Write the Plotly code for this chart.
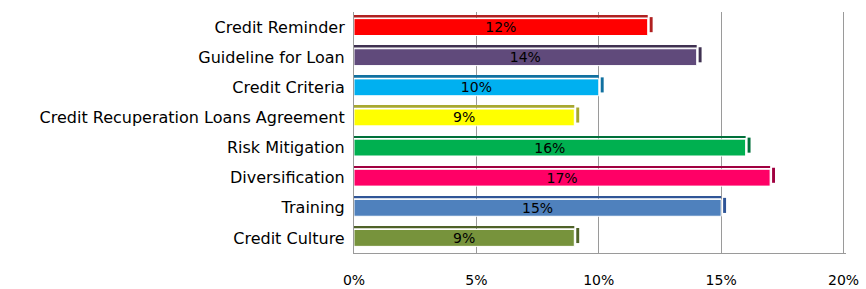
import plotly.graph_objects as go

categories = ["Credit Reminder", "Guideline for Loan", "Credit Criteria",
              "Credit Recuperation Loans Agreement", "Risk Mitigation",
              "Diversification", "Training", "Credit Culture"]
values = [12, 14, 10, 9, 16, 17, 15, 9]
labels = ["12%", "14%", "10%", "9%", "16%", "17%", "15%", "9%"]
colors = ["#FF0000", "#604A7B", "#00B0F0", "#FFFF00",
          "#00B050", "#FF0066", "#4F81BD", "#77933C"]
dark_colors = ["#B02020", "#3F3151", "#1070A0", "#A8A830",
               "#00703A", "#A00040", "#2F5597", "#4F6228"]
tick_vals = [0, 5, 10, 15, 20]
tick_text = ["0%", "5%", "10%", "15%", "20%"]

FONT = "DejaVu Sans, Liberation Sans, Arial"

fig = go.Figure()
# top face strip (3D look)
fig.add_trace(go.Bar(
    y=categories, x=values, orientation="h",
    marker=dict(color=dark_colors, line=dict(width=0)),
    width=0.06, offset=-0.38, hoverinfo="skip",
))
# right face (3D look)
fig.add_trace(go.Bar(
    y=categories, x=[0.12] * len(values), base=[v + 0.08 for v in values],
    orientation="h",
    marker=dict(color=dark_colors, line=dict(width=0)),
    width=0.5, offset=-0.33, hoverinfo="skip",
))
# main bars
fig.add_trace(go.Bar(
    y=categories, x=values, orientation="h",
    marker=dict(color=colors, line=dict(color="white", width=1)),
    text=labels, textposition="inside", insidetextanchor="middle",
    constraintext="none",
    textfont=dict(family=FONT, size=14, color="black"),
    width=0.56, offset=-0.28,
))

fig.update_layout(
    width=866, height=289,
    margin=dict(l=354, r=20, t=12, b=36),
    paper_bgcolor="white", plot_bgcolor="white",
    showlegend=False, barmode="overlay",
    font=dict(family=FONT, size=14, color="black"),
    xaxis=dict(range=[0, 20.1], tickvals=tick_vals, ticktext=tick_text,
               showgrid=True, gridcolor="#9A9A9A", gridwidth=1,
               showline=True, linecolor="#9A9A9A", linewidth=1,
               zeroline=False, ticks="", ticklen=0, ticklabelstandoff=14,
               ticklabeloverflow="allow", automargin=False,
               tickfont=dict(size=14)),
    yaxis=dict(autorange="reversed", showline=True, linecolor="#9A9A9A",
               linewidth=1, ticks="", ticksuffix=" ", automargin=False,
               tickfont=dict(size=16)),
)

fig.write_html(
    "out.html",
    config={"displayModeBar": False},
    post_script="document.body.style.margin='0';document.body.style.overflow='hidden';",
)
